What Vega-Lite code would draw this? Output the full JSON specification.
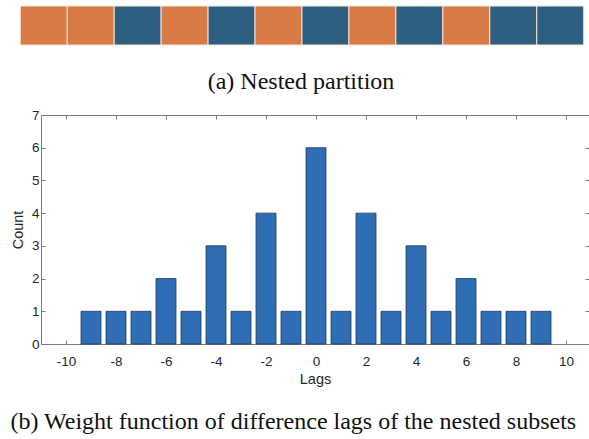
{
  "$schema": "https://vega.github.io/schema/vega-lite/v6.json",
  "background": "white",
  "padding": {"left": 10, "top": 5, "right": 0, "bottom": 0},
  "spacing": 14,
  "config": {
    "view": {"stroke": null},
    "font": "Liberation Sans",
    "axis": {
      "grid": false,
      "domainColor": "#7a7a7a",
      "tickColor": "#7a7a7a",
      "domainWidth": 1,
      "tickWidth": 1,
      "tickSize": -4,
      "labelColor": "#262626",
      "labelFont": "Liberation Sans",
      "labelFontSize": 13.5,
      "titleFont": "Liberation Sans",
      "titleFontSize": 14.5,
      "titleFontWeight": "normal",
      "titleColor": "#262626"
    },
    "axisX": {"labelPadding": 14, "titlePadding": 5},
    "axisY": {"labelPadding": 6, "titlePadding": 6}
  },
  "vconcat": [
    {
      "width": 548,
      "height": 39,
      "title": {
        "text": "(a) Nested partition",
        "orient": "bottom",
        "anchor": "middle",
        "frame": "group",
        "dx": -14,
        "offset": 24,
        "font": "Liberation Serif",
        "fontSize": 24,
        "fontWeight": "normal",
        "color": "#111111"
      },
      "data": {
        "values": [
          {"cell": 1, "subset": "Subset 1"},
          {"cell": 2, "subset": "Subset 1"},
          {"cell": 3, "subset": "Subset 2"},
          {"cell": 4, "subset": "Subset 1"},
          {"cell": 5, "subset": "Subset 2"},
          {"cell": 6, "subset": "Subset 1"},
          {"cell": 7, "subset": "Subset 2"},
          {"cell": 8, "subset": "Subset 1"},
          {"cell": 9, "subset": "Subset 2"},
          {"cell": 10, "subset": "Subset 1"},
          {"cell": 11, "subset": "Subset 2"},
          {"cell": 12, "subset": "Subset 2"}
        ]
      },
      "mark": {"type": "bar", "orient": "vertical", "width": 47, "stroke": "#f3e6df", "strokeWidth": 1, "clip": false},
      "encoding": {
        "x": {
          "field": "cell",
          "type": "quantitative",
          "scale": {"domain": [0.941, 12.613], "nice": false, "zero": false, "padding": 0},
          "axis": null
        },
        "y": {
          "datum": 0,
          "type": "quantitative",
          "scale": {"domain": [0, 1], "nice": false},
          "axis": null
        },
        "y2": {"datum": 1},
        "color": {
          "field": "subset",
          "type": "nominal",
          "scale": {"domain": ["Subset 1", "Subset 2"], "range": ["#d97a44", "#2e5f80"]},
          "legend": null
        }
      }
    },
    {
      "width": 548,
      "height": 229,
      "title": {
        "text": "(b) Weight function of difference lags of the nested subsets",
        "orient": "bottom",
        "anchor": "start",
        "frame": "bounds",
        "dx": 0,
        "offset": 24,
        "font": "Liberation Serif",
        "fontSize": 24,
        "fontWeight": "normal",
        "color": "#111111"
      },
      "data": {
        "values": [
          {"lag": -9, "count": 1},
          {"lag": -8, "count": 1},
          {"lag": -7, "count": 1},
          {"lag": -6, "count": 2},
          {"lag": -5, "count": 1},
          {"lag": -4, "count": 3},
          {"lag": -3, "count": 1},
          {"lag": -2, "count": 4},
          {"lag": -1, "count": 1},
          {"lag": 0, "count": 6},
          {"lag": 1, "count": 1},
          {"lag": 2, "count": 4},
          {"lag": 3, "count": 1},
          {"lag": 4, "count": 3},
          {"lag": 5, "count": 1},
          {"lag": 6, "count": 2},
          {"lag": 7, "count": 1},
          {"lag": 8, "count": 1},
          {"lag": 9, "count": 1}
        ]
      },
      "layer": [
        {
          "mark": {"type": "bar", "width": 20, "fill": "#2f6db5", "stroke": "#1b3a60", "strokeWidth": 0.8},
          "encoding": {
            "x": {
              "field": "lag",
              "type": "quantitative",
              "scale": {"domain": [-11, 10.92], "nice": false, "zero": false, "padding": 0},
              "axis": {"orient": "bottom", "values": [-10, -8, -6, -4, -2, 0, 2, 4, 6, 8, 10], "labelExpr": "'' + datum.value", "title": "Lags"}
            },
            "y": {
              "field": "count",
              "type": "quantitative",
              "scale": {"domain": [0, 7], "nice": false},
              "axis": {"orient": "left", "values": [0, 1, 2, 3, 4, 5, 6, 7], "title": "Count"}
            }
          }
        },
        {
          "mark": {"type": "bar", "width": 20, "opacity": 0},
          "encoding": {
            "x": {
              "field": "lag",
              "type": "quantitative",
              "axis": {"orient": "top", "values": [-10, -8, -6, -4, -2, 0, 2, 4, 6, 8, 10], "labels": false, "title": null}
            },
            "y": {
              "field": "count",
              "type": "quantitative",
              "axis": {"orient": "right", "values": [0, 1, 2, 3, 4, 5, 6, 7], "labels": false, "title": null}
            }
          }
        }
      ],
      "resolve": {"axis": {"x": "independent", "y": "independent"}}
    }
  ]
}
